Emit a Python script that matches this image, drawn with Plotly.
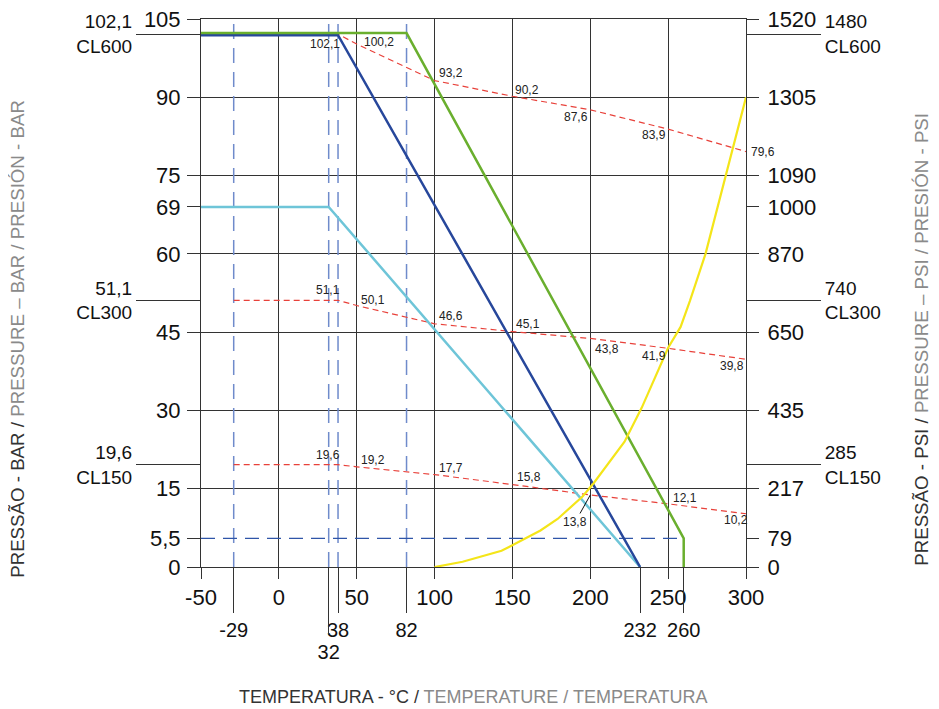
import plotly.graph_objects as go

# ---------------- data ----------------
temp_cl = [-29, 38, 50, 100, 150, 200, 250, 300]
cl600 = [102.1, 102.1, 100.2, 93.2, 90.2, 87.6, 83.9, 79.6]
cl300 = [51.1, 51.1, 50.1, 46.6, 45.1, 43.8, 41.9, 39.8]
cl150 = [19.6, 19.6, 19.2, 17.7, 15.8, 13.8, 12.1, 10.2]

navy_t = [-50, 38, 232]
navy_p = [101.9, 101.9, 0]
green_t = [-50, 82, 260, 260]
green_p = [102.3, 102.3, 5.5, 0]
cyan_t = [-50, 32, 232]
cyan_p = [69, 69, 0]
yellow_t = [100, 118, 143, 168, 179, 195, 202, 222, 233, 250, 258, 264, 274, 287, 300]
yellow_p = [0, 1, 3.1, 7, 9.2, 13.5, 16, 24, 30.5, 42, 46, 51, 60, 75, 90]

ref_temps = [-29, 32, 38, 82]
limit_t = [-50, 260]
limit_p = 5.5

bar_grid = [0, 15, 30, 45, 60, 75, 90, 105]
bar_minor = [5.5, 69]
psi_pos = [0, 5.5, 15, 30, 45, 60, 69, 75, 90, 105]
psi_text = ["0", "79", "217", "435", "650", "870", "1000", "1090", "1305", "1520"]
cl_bar = [102.1, 51.1, 19.6]
cl_psi = [1480, 740, 285]
cl_names = ["CL600", "CL300", "CL150"]
x_ticks = [-50, 0, 50, 100, 150, 200, 250, 300]
x_marks = [-29, 38, 82, 232, 260]
x_mark_low = [32]


def fmt(v):
    s = ("%g" % v)
    return s.replace(".", ",")


# ---------------- styles ----------------
FONT = "Liberation Sans, Arial, Helvetica, sans-serif"
GRID = "#333333"
NAVY = "#27479B"
GREEN = "#6AAF2E"
CYAN = "#6EC5D8"
YELLOW = "#F4E519"
RED = "#E8413A"
DASHBLUE = "#6F8BCB"
LIMBLUE = "#2F55A8"

# label placement (xanchor, xshift, yshift) for points 1..7 of each class
place600 = [("right", 4, -10), ("left", 5, 2), ("left", 2, 7.5), ("left", 1, 6),
            ("right", 0, -7), ("right", 0, -6), ("left", 3, 0)]
place300 = [("right", 4, 10), ("left", 2, 5.5), ("left", 2, 7.7), ("left", 2, 7.6),
            ("left", 3, -10.6), ("right", 0, -7.7), ("right", 0, -7)]
place150 = [("right", 4, 10), ("left", 2, 7), ("left", 2, 6.6), ("left", 3, 8),
            None, ("left", 3, 6), ("right", 4, -6)]

fig = go.Figure()

# reference temperature dashed verticals
vx, vy = [], []
for t in ref_temps:
    vx += [t, t, None]
    vy += [0, 105, None]
fig.add_trace(go.Scatter(x=vx, y=vy, mode="lines",
                         line=dict(color=DASHBLUE, width=1.5, dash="15px,9px"),
                         hoverinfo="skip", showlegend=False))
# 5.5 bar limit
fig.add_trace(go.Scatter(x=limit_t, y=[limit_p, limit_p], mode="lines",
                         line=dict(color=LIMBLUE, width=1.3, dash="14px,8px"),
                         hoverinfo="skip", showlegend=False))

for arr in (cl600, cl300, cl150):
    fig.add_trace(go.Scatter(x=temp_cl, y=arr, mode="lines",
                             line=dict(color=RED, width=1.2, dash="6px,4px"),
                             hoverinfo="skip", showlegend=False))

fig.add_trace(go.Scatter(x=cyan_t, y=cyan_p, mode="lines",
                         line=dict(color=CYAN, width=2.5), showlegend=False))
fig.add_trace(go.Scatter(x=navy_t, y=navy_p, mode="lines",
                         line=dict(color=NAVY, width=2.5), showlegend=False))
fig.add_trace(go.Scatter(x=green_t, y=green_p, mode="lines",
                         line=dict(color=GREEN, width=2.5), showlegend=False))
fig.add_trace(go.Scatter(x=yellow_t, y=yellow_p, mode="lines",
                         line=dict(color=YELLOW, width=2.2), showlegend=False))

# helper invisible traces to instantiate overlaying axes
for xa, ya in [("x2", "y"), ("x3", "y"), ("x", "y2"), ("x", "y3"), ("x", "y4"), ("x", "y5")]:
    fig.add_trace(go.Scatter(x=[-50, 300], y=[0, 105], mode="markers",
                             marker=dict(opacity=0), hoverinfo="skip",
                             showlegend=False, xaxis=xa, yaxis=ya))

# value annotations
ann = []
for arr, places in ((cl600, place600), (cl300, place300), (cl150, place150)):
    for i in range(1, len(arr)):
        p = places[i - 1]
        if p is None:
            ann.append(dict(x=temp_cl[i], y=arr[i], text=fmt(arr[i]), showarrow=True,
                            arrowhead=0, arrowwidth=1, arrowcolor="#111",
                            ax=-15, ay=27, font=dict(size=12, color="#222", family=FONT)))
            continue
        xa_, xs, ys = p
        ann.append(dict(x=temp_cl[i], y=arr[i], text=fmt(arr[i]), showarrow=False,
                        xanchor=xa_, yanchor="middle", xshift=xs, yshift=ys,
                        font=dict(size=12, color="#222", family=FONT)))

VT_SIZE = 18.7
ann.append(dict(xref="paper", yref="paper", x=-0.3358, y=0.4164, textangle=-90,
                showarrow=False, xanchor="center", yanchor="middle",
                text="PRESSÃO - BAR / <span style='color:#8a8a8a'>PRESSURE – BAR / PRESIÓN - BAR</span>",
                font=dict(size=VT_SIZE, color="#333", family=FONT)))
ann.append(dict(xref="paper", yref="paper", x=1.3229, y=0.4164, textangle=-90,
                showarrow=False, xanchor="center", yanchor="middle",
                text="PRESSÃO - PSI / <span style='color:#8a8a8a'>PRESSURE – PSI / PRESIÓN - PSI</span>",
                font=dict(size=VT_SIZE, color="#333", family=FONT)))
ann.append(dict(xref="paper", yref="paper", x=0.4999, y=-0.2374,
                showarrow=False, xanchor="center", yanchor="middle",
                text="TEMPERATURA - °C / <span style='color:#8a8a8a'>TEMPERATURE / TEMPERATURA</span>",
                font=dict(size=18, color="#333", family=FONT)))

common = dict(zeroline=False, fixedrange=True, automargin=False, ticklabeloverflow="allow")
fig.update_layout(
    template="none",
    width=931, height=701,
    margin=dict(l=193, r=193, t=11, b=142, pad=0, autoexpand=False),
    paper_bgcolor="white", plot_bgcolor="white",
    font=dict(family=FONT, color="#111"),
    showlegend=False,
    annotations=ann,
    xaxis=dict(range=[-50, 300], tickvals=x_ticks, ticktext=[fmt(v) for v in x_ticks],
               showgrid=True, gridcolor=GRID, gridwidth=1,
               showline=True, linecolor=GRID, linewidth=1, mirror=True,
               ticks="outside", ticklen=11, tickcolor=GRID, tickwidth=1,
               tickfont=dict(size=22), **common),
    xaxis2=dict(range=[-50, 300], overlaying="x", side="bottom", anchor="y",
                tickvals=x_marks, ticktext=[fmt(v) for v in x_marks],
                showgrid=False, showline=False, ticks="outside", ticklen=45,
                tickcolor=GRID, tickwidth=1, tickfont=dict(size=20), ticklabelstandoff=0, **common),
    xaxis3=dict(range=[-50, 300], overlaying="x", side="bottom", anchor="y",
                tickvals=x_mark_low, ticktext=[fmt(v) for v in x_mark_low],
                showgrid=False, showline=False, ticks="outside", ticklen=67,
                tickcolor=GRID, tickwidth=1, tickfont=dict(size=20), ticklabelstandoff=0, **common),
    yaxis=dict(range=[0, 105], tickvals=bar_grid, ticktext=[fmt(v) for v in bar_grid],
               showgrid=True, gridcolor=GRID, gridwidth=1,
               showline=True, linecolor=GRID, linewidth=1, mirror=True,
               ticks="outside", ticklen=13, tickcolor=GRID, tickwidth=1,
               tickfont=dict(size=22), ticklabelstandoff=2, **common),
    yaxis5=dict(range=[0, 105], overlaying="y", side="left", anchor="x",
                tickvals=bar_minor, ticktext=[fmt(v) for v in bar_minor],
                showgrid=False, showline=False, ticks="outside", ticklen=13,
                tickcolor=GRID, tickwidth=1, tickfont=dict(size=22), ticklabelstandoff=2, **common),
    yaxis3=dict(range=[0, 105], overlaying="y", side="left", anchor="x",
                tickvals=cl_bar,
                ticktext=[fmt(v) + "<br>" + n for v, n in zip(cl_bar, cl_names)],
                showgrid=False, showline=False, ticks="outside", ticklen=64,
                tickcolor=GRID, tickwidth=1, tickfont=dict(size=19), ticklabelstandoff=0, **common),
    yaxis2=dict(range=[0, 105], overlaying="y", side="right", anchor="x",
                tickvals=psi_pos, ticktext=psi_text,
                showgrid=False, showline=False, ticks="outside", ticklen=12,
                tickcolor=GRID, tickwidth=1, tickfont=dict(size=22), ticklabelstandoff=4, **common),
    yaxis4=dict(range=[0, 105], overlaying="y", side="right", anchor="x",
                tickvals=cl_bar,
                ticktext=[str(v) + "<br>" + n for v, n in zip(cl_psi, cl_names)],
                showgrid=False, showline=False, ticks="outside", ticklen=74,
                tickcolor=GRID, tickwidth=1, tickfont=dict(size=19), ticklabelstandoff=0, **common),
)

fig.write_html("out.html")
